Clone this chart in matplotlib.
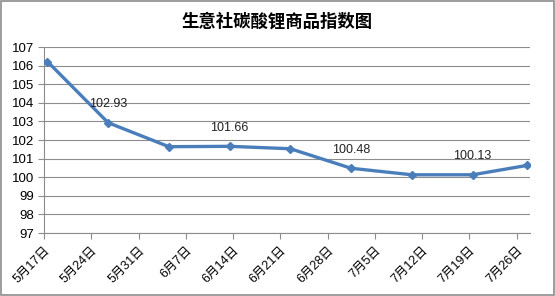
import matplotlib
matplotlib.use("Agg")
import matplotlib.pyplot as plt
import pandas as pd

plt.rcParams['font.family'] = ['Liberation Sans', 'Noto Sans CJK SC', 'DejaVu Sans']

dates = ["2024-05-17", "2024-05-26", "2024-06-04", "2024-06-13", "2024-06-22",
         "2024-07-01", "2024-07-10", "2024-07-19", "2024-07-27"]
values = [106.22, 102.93, 101.64, 101.66, 101.53, 100.48, 100.13, 100.13, 100.63]
labelled = {1: "102.93", 3: "101.66", 5: "100.48", 7: "100.13"}
tick_dates = pd.date_range("2024-05-17", "2024-07-26", freq="7D")
tick_labels = [f"{d.month}月{d.day}日" for d in tick_dates]

x = pd.to_datetime(dates) + pd.Timedelta(hours=12)

fig = plt.figure(figsize=(5.55, 2.96), dpi=100)
ax = fig.add_axes([44/555, 1 - 233/296, (530 - 44)/555, (233 - 47)/296])

grid_c = "#8c8c8c"
ax.set_ylim(97, 107)
ax.set_yticks(range(97, 108))
ax.grid(axis='y', color=grid_c, linewidth=0.8)
ax.set_axisbelow(True)

ax.plot(x, values, color="#4a7ebb", linewidth=2.4, marker="D", markersize=4.5,
        markerfacecolor="#4a7ebb", markeredgecolor="#4a7ebb", zorder=3)

for i, txt in labelled.items():
    ax.annotate(txt, (x[i], values[i]), xytext=(0, 9), textcoords="offset points",
                ha="center", va="bottom", fontsize=9, color="#222222")

ax.set_xlim(pd.Timestamp("2024-05-17"), pd.Timestamp("2024-07-28"))
ax.set_xticks(tick_dates)
ax.set_xticklabels(tick_labels, rotation=45, ha="right", rotation_mode="anchor",
                   fontsize=9)
ax.tick_params(axis='x', length=4, color=grid_c, pad=4)
ax.tick_params(axis='y', length=4, color=grid_c, labelsize=9.5, pad=3)

for s in ["top", "right"]:
    ax.spines[s].set_visible(False)
for s in ["left", "bottom"]:
    ax.spines[s].set_color(grid_c)
    ax.spines[s].set_linewidth(0.8)

fig.text(0.5, 1 - 21/296, "生意社碳酸锂商品指数图", ha="center", va="center",
         fontsize=12.5, fontweight="bold")

fig.patches.append(plt.Rectangle((0.001, 0.002), 0.997, 0.996, transform=fig.transFigure,
                                 fill=False, edgecolor="#8c8c8c", linewidth=1.2))

fig.savefig("out.png", dpi=100)
